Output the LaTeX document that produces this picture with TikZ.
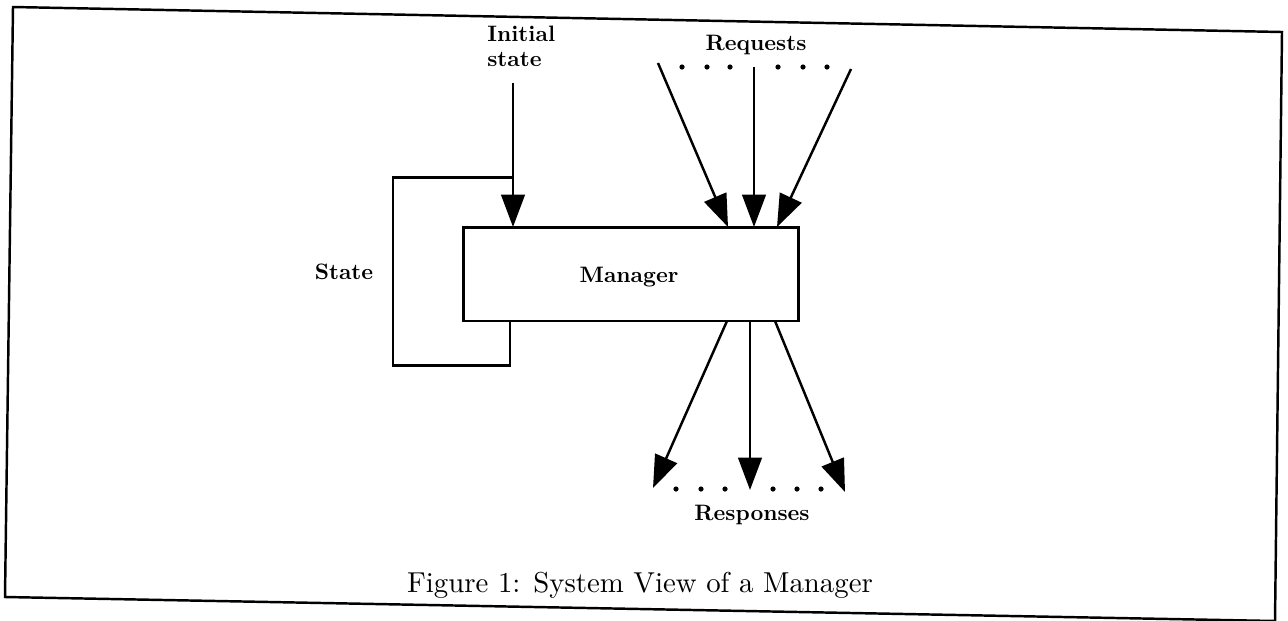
\documentclass[tikz,border=0pt]{standalone}
\usepackage{fontspec}
\usetikzlibrary{arrows.meta}

% ten point designs, scaled up
\newfontfamily\capfont{lmroman10-regular.otf}
\newfontfamily\lblfont{lmroman10-bold.otf}

\begin{document}
\begin{tikzpicture}[x=0.02cm, y=-0.02cm,
    box/.style={draw, line width=1.7pt, inner sep=0pt},
    wall/.style={line width=1.7pt},
    flow/.style={line width=1.4pt, -{Triangle[length=18.5pt, width=13.5pt]}},
    lbl/.style={font=\lblfont\fontsize{12.7}{13.8}\selectfont, inner sep=0pt},
    figcap/.style={font=\capfont\fontsize{16.4}{19}\selectfont, inner sep=0pt},
    dot/.style={fill=black}
]
\useasboundingbox (0,0) rectangle (1288,620);

        % Outer frame of the figure
        \draw[line width=1.4pt] (13,7) -- (1282,32) -- (1275,621) -- (5,597) -- cycle;

        % The manager itself
        \node[box, minimum width=6.72cm, minimum height=1.88cm] (mgr) at (631,274) {};
        \node[lbl, anchor=base] (mgrtxt) at (629,282) {Manager};

        % Define end points of the request arrows
        \coordinate (R1) at (658, 63);     % Left request
        \coordinate (R2) at (754, 67);     % Middle request
        \coordinate (R3) at (851, 69);     % Right request
        \coordinate (T1) at (728, 227);    % Tip of left request
        \coordinate (T2) at (754, 227);    % Tip of middle request
        \coordinate (T3) at (777, 227);    % Tip of right request

        % Define end points of the response arrows
        \coordinate (S1) at (727, 321);    % Left response start
        \coordinate (S2) at (750, 321);    % Middle response start
        \coordinate (S3) at (775, 321);    % Right response start
        \coordinate (P1) at (653, 488);    % Left response tip
        \coordinate (P2) at (750, 490);    % Middle response tip
        \coordinate (P3) at (845, 492);    % Right response tip

        % Define corners of the state loop
        \coordinate (I0) at (513, 83);     % Start of initial state arrow
        \coordinate (I1) at (513, 227);    % Tip of initial state arrow
        \coordinate (B1) at (513, 177);    % Top-right of state
        \coordinate (B2) at (393, 177);    % Top-left of state
        \coordinate (B3) at (393, 365);    % Bottom-left of state
        \coordinate (B4) at (510, 365);    % Bottom-right of state
        \coordinate (B5) at (510, 321);    % Back into the manager

        % State loop and initial state
        \draw[wall] (B1) -- (B2) -- (B3) -- (B4) -- (B5);
        \draw[flow] (I0) -- (I1);

        % Requests coming in
        \draw[flow] (R1) -- (T1);
        \draw[flow] (R2) -- (T2);
        \draw[flow] (R3) -- (T3);

        % Responses going out
        \draw[flow] (S1) -- (P1);
        \draw[flow] (S2) -- (P2);
        \draw[flow] (S3) -- (P3);

        % Dots between the requests
        \fill[dot] (682, 67) circle (2.6);
        \fill[dot] (707, 67) circle (2.6);
        \fill[dot] (730, 67) circle (2.6);
        \fill[dot] (778, 67) circle (2.6);
        \fill[dot] (803, 67) circle (2.6);
        \fill[dot] (827, 67) circle (2.6);

        % Dots between the responses
        \fill[dot] (676, 489) circle (2.6);
        \fill[dot] (701, 489) circle (2.6);
        \fill[dot] (725, 489) circle (2.6);
        \fill[dot] (773, 489) circle (2.6);
        \fill[dot] (797, 489) circle (2.6);
        \fill[dot] (821, 489) circle (2.6);

        % Labels
        \node[lbl, align=left, anchor=north west] (init) at (487, 26) {Initial\\state};
        \node[lbl, anchor=base] (req) at (756, 50) {Requests};
        \node[lbl, anchor=base] (st) at (344, 279) {State};
        \node[lbl, anchor=base] (resp) at (752, 520) {Responses};
        \node[figcap, anchor=base] (caption) at (640, 592) {Figure 1: System View of a Manager};
\end{tikzpicture}
\end{document}
